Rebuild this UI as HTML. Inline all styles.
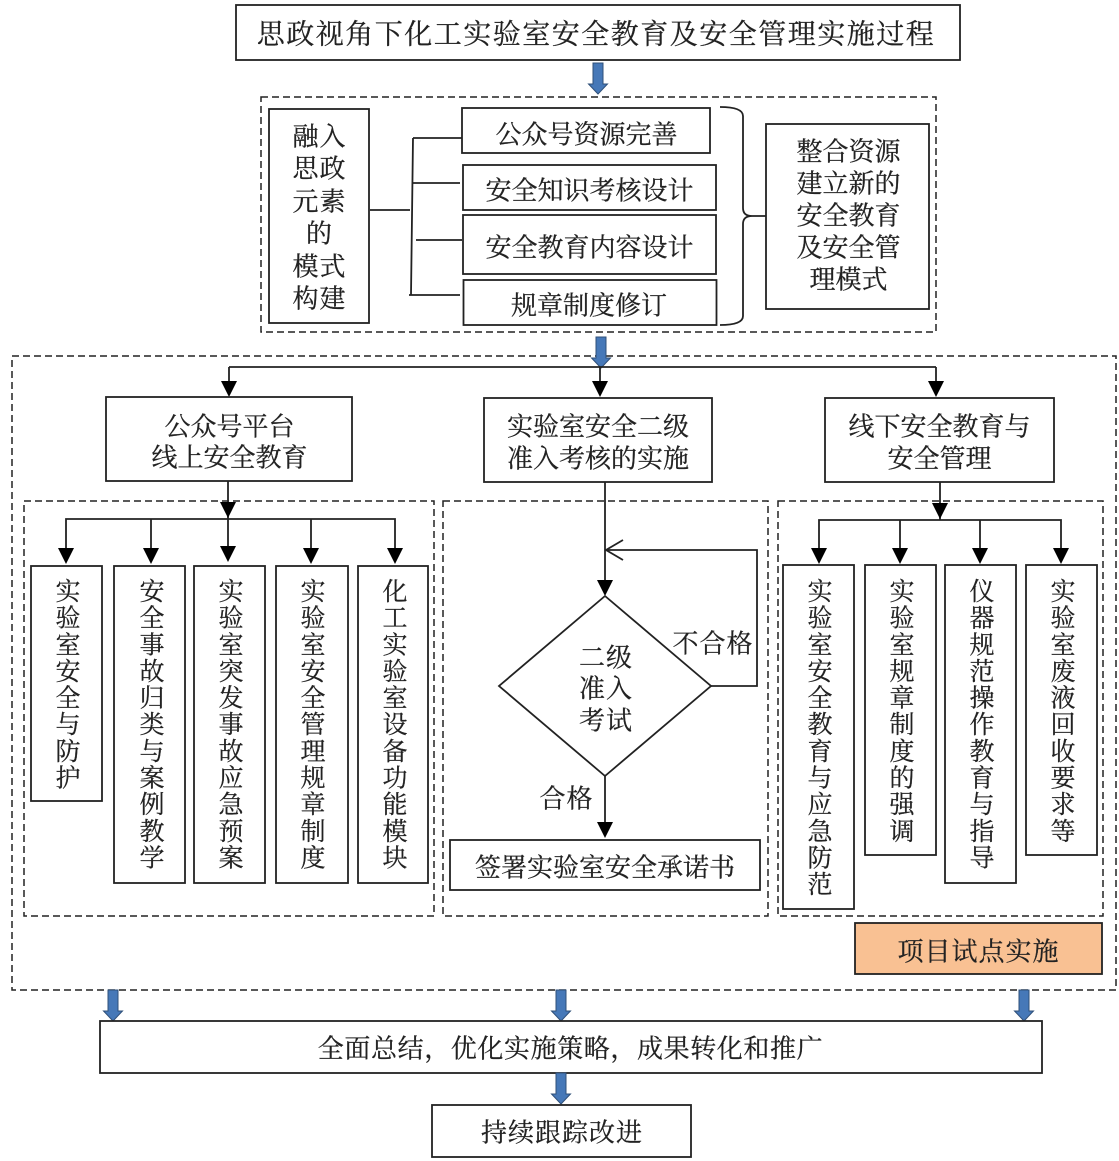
<!DOCTYPE html>
<html lang="zh"><head><meta charset="utf-8"><title>实施过程</title>
<style>
html,body{margin:0;padding:0;background:#fff}
svg{display:block}
text{font-family:"Liberation Serif","Noto Serif CJK SC",serif;fill:#222;stroke:#222;stroke-width:.25;text-anchor:middle;dominant-baseline:central}
.t{font-size:26px;letter-spacing:0}
.l{font-size:26px;letter-spacing:1px}
.v{font-size:25px;writing-mode:vertical-rl;text-anchor:start;letter-spacing:1.65px}
.b{fill:#fff;stroke:#222;stroke-width:1.8}
.d{fill:none;stroke:#222;stroke-width:1.5;stroke-dasharray:7 4}
.n{fill:none;stroke:#222;stroke-width:1.8}
.h{fill:#000}
.u{fill:#4678b8;stroke:#2f4f78;stroke-width:1}
</style></head><body>
<svg width="1119" height="1161" viewBox="0 0 1119 1161" xmlns="http://www.w3.org/2000/svg">
<defs>
<polygon id="ba" points="-5,0 5,0 5,21 9.5,21 0,31 -9.5,21 -5,21" class="u"/>
<polygon id="ah" points="-8,-16 8,-16 0,0" class="h"/>
</defs>

<rect class="b" x="236" y="5" width="724" height="55"/>
<text x="596" y="35" style="font-size:28px;letter-spacing:1.5px">思政视角下化工实验室安全教育及安全管理实施过程</text>
<use href="#ba" x="598" y="63"/>

<rect class="d" x="261" y="97" width="675" height="235"/>
<rect class="b" x="269" y="109" width="100" height="214"/>
<text class="l" x="319.500" y="137">融入</text>
<text class="l" x="319.500" y="169">思政</text>
<text class="l" x="319.500" y="202">元素</text>
<text class="l" x="319.500" y="234">的</text>
<text class="l" x="319.500" y="267">模式</text>
<text class="l" x="319.500" y="299">构建</text>
<path class="n" d="M370 210H410M413 138L411 295M413 138H462M413 183H460M416 240H462M409 295H460"/>
<rect class="b" x="462" y="108" width="248" height="45"/>
<rect class="b" x="463" y="165" width="253" height="45"/>
<rect class="b" x="463" y="215" width="253" height="59"/>
<rect class="b" x="463.500" y="280" width="253" height="45"/>
<text class="t" x="586.500" y="135">公众号资源完善</text>
<text class="t" x="589.500" y="191">安全知识考核设计</text>
<text class="t" x="589.500" y="248">安全教育内容设计</text>
<text class="t" x="589" y="306">规章制度修订</text>
<path class="n" d="M720 107Q743 107 743 116V208Q743 216 752 216H766M752 216Q743 216 743 224V316Q743 325 720 325"/>
<rect class="b" x="766" y="124" width="163" height="185"/>
<text class="t" x="848.500" y="152">整合资源</text>
<text class="t" x="848.500" y="184">建立新的</text>
<text class="t" x="848.500" y="216">安全教育</text>
<text class="t" x="848.500" y="248">及安全管</text>
<text class="t" x="848.500" y="280">理模式</text>

<rect class="d" x="12" y="356" width="1104" height="634"/>
<use href="#ba" x="601" y="337"/>
<path class="n" d="M229 367H936M229 367V385M600 367V385M936 367V385"/>
<use href="#ah" x="229" y="397"/><use href="#ah" x="600" y="397"/><use href="#ah" x="936" y="397"/>

<rect class="b" x="106" y="397" width="246" height="84"/>
<text class="t" x="229.500" y="427">公众号平台</text>
<text class="t" x="229.500" y="458">线上安全教育</text>
<rect class="b" x="484" y="398" width="228" height="84"/>
<text class="t" x="598" y="427">实验室安全二级</text>
<text class="t" x="598" y="459">准入考核的实施</text>
<rect class="b" x="825" y="398" width="229" height="84"/>
<text class="t" x="939.500" y="427">线下安全教育与</text>
<text class="t" x="939.500" y="459">安全管理</text>

<rect class="d" x="24" y="501" width="410" height="415"/>
<rect class="d" x="443" y="501" width="325" height="415"/>
<rect class="d" x="778" y="501" width="325" height="415"/>

<path class="n" d="M228 481V519M66 552V519H395V552M151 519V552M228 519V552M311 519V552"/>
<use href="#ah" x="228" y="518"/>
<use href="#ah" x="66" y="564"/><use href="#ah" x="151" y="564"/><use href="#ah" x="228" y="562"/><use href="#ah" x="311" y="564"/><use href="#ah" x="395" y="564"/>
<rect class="b" x="31" y="566" width="71" height="235"/>
<rect class="b" x="114" y="566" width="71" height="317"/>
<rect class="b" x="194" y="566" width="71" height="317"/>
<rect class="b" x="276" y="566" width="72" height="317"/>
<rect class="b" x="358" y="566" width="70" height="317"/>
<text class="v" x="65.500" y="578">实验室安全与防护</text>
<text class="v" x="149.500" y="578">安全事故归类与案例教学</text>
<text class="v" x="228.500" y="578">实验室突发事故应急预案</text>
<text class="v" x="310.500" y="578">实验室安全管理规章制度</text>
<text class="v" x="392.500" y="578">化工实验室设备功能模块</text>

<path class="n" d="M605 482V582"/>
<use href="#ah" x="605" y="596"/>
<path class="n" d="M606 550H757V686H711M623 540L606 550L623 560"/>
<polygon class="n" points="605,596 711,686 605,776 499,686"/>
<text class="l" x="606" y="658">二级</text>
<text class="l" x="606" y="689">准入</text>
<text class="l" x="606" y="721">考试</text>
<text class="l" x="713" y="644">不合格</text>
<text class="l" x="566.500" y="799">合格</text>
<path class="n" d="M605 776V825"/>
<use href="#ah" x="605" y="838"/>
<rect class="b" x="450" y="840" width="310" height="50"/>
<text class="t" x="605" y="868">签署实验室安全承诺书</text>

<path class="n" d="M940 482V520M819 552V520H1061V552M900 520V552M980 520V552"/>
<use href="#ah" x="940" y="519"/>
<use href="#ah" x="819" y="564"/><use href="#ah" x="900" y="564"/><use href="#ah" x="980" y="564"/><use href="#ah" x="1061" y="564"/>
<rect class="b" x="783" y="565" width="71" height="344"/>
<rect class="b" x="865" y="565" width="71" height="290"/>
<rect class="b" x="945" y="565" width="71" height="318"/>
<rect class="b" x="1026" y="565" width="71" height="290"/>
<text class="v" x="817.500" y="578">实验室安全教育与应急防范</text>
<text class="v" x="899.500" y="578">实验室规章制度的强调</text>
<text class="v" x="979.500" y="578">仪器规范操作教育与指导</text>
<text class="v" x="1060.500" y="578">实验室废液回收要求等</text>

<rect x="855" y="923" width="247" height="51" fill="#f9c193" stroke="#222" stroke-width="1.8"/>
<text class="l" x="978.500" y="952">项目试点实施</text>

<use href="#ba" x="113" y="990"/><use href="#ba" x="561" y="990"/><use href="#ba" x="1024" y="990"/>
<rect class="b" x="100" y="1021" width="942" height="52"/>
<text class="l" x="570.500" y="1049" style="letter-spacing:0.6px">全面总结，优化实施策略，成果转化和推广</text>
<use href="#ba" x="561" y="1073"/>
<rect class="b" x="432" y="1105" width="259" height="52"/>
<text class="l" x="562" y="1133">持续跟踪改进</text>
</svg>
</body></html>
